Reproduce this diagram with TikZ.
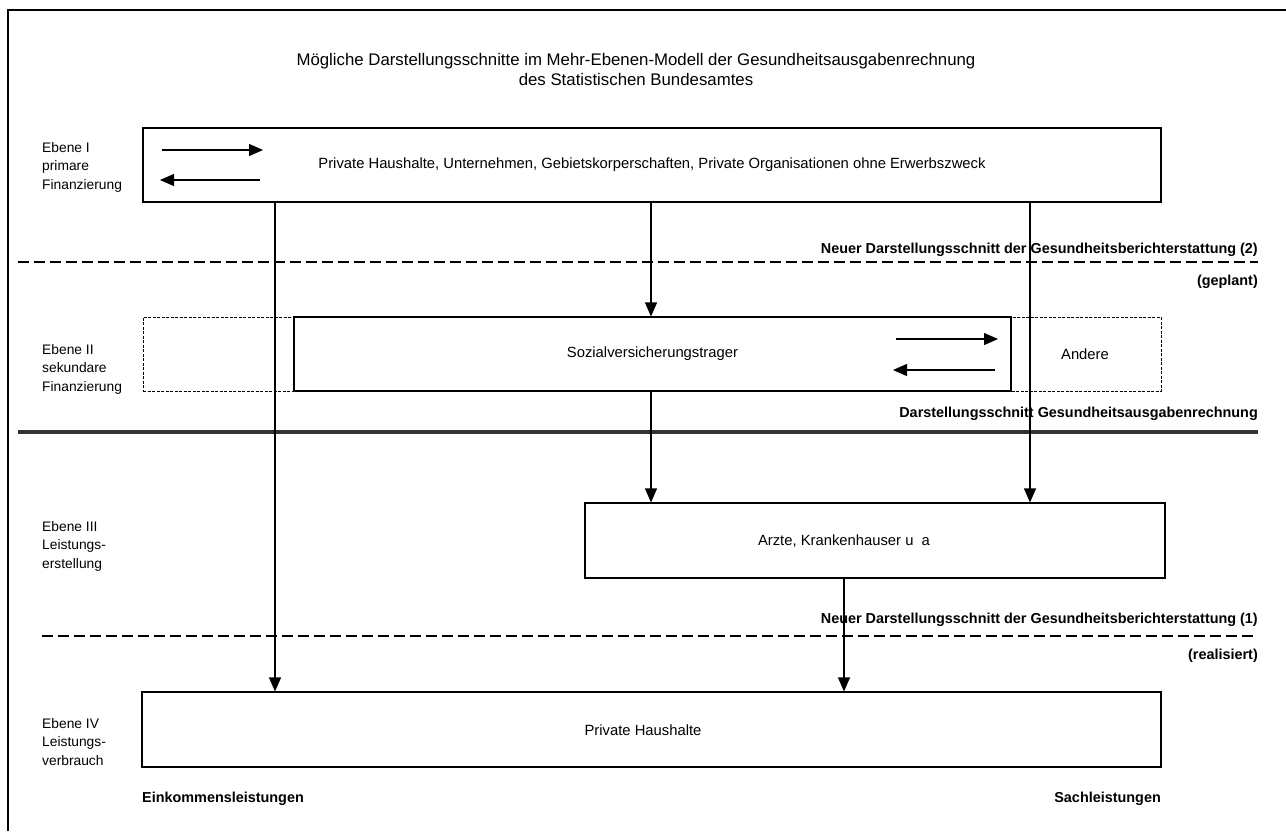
\documentclass[tikz,border=0pt]{standalone}
\usepackage{fontspec}
\setmainfont{Liberation Sans}
\usetikzlibrary{arrows.meta}
\begin{document}
\begin{tikzpicture}[x=1pt,y=-1pt,
  every node/.style={font=\fontsize{14.8}{19}\selectfont, inner sep=0pt},
  box/.style={draw, line width=1.1pt},
  dbox/.style={draw, line width=0.9pt, dash pattern=on 3pt off 1.5pt},
  lvl/.style={align=left, anchor=base west, font=\fontsize{13.8}{18.5}\selectfont},
  cutlabel/.style={font=\bfseries\fontsize{14.4}{18}\selectfont},
  flow/.style={line width=1.1pt, -{Triangle[length=14pt,width=12pt]}},
  swap/.style={line width=1.1pt, -{Triangle[length=14pt,width=12pt]}},
  cutline/.style={line width=1.1pt, dash pattern=on 11pt off 5pt},
  mainline/.style={line width=3.5pt, black!80}
]
\useasboundingbox (0,0) rectangle (1286,831);

% frame
\draw[line width=1.1pt] (8,831) -- (8,10) -- (1286,10);

% title (baseline of the last line)
\node[align=center, anchor=base, font=\fontsize{16.8}{20}\selectfont] (title) at (636,85)
  {Mögliche Darstellungsschnitte im Mehr-Ebenen-Modell der Gesundheitsausgabenrechnung\\
   des Statistischen Bundesamtes};

% level labels (baseline of the last line)
\node[lvl] (e1) at (42,189) {Ebene I\\primare\\Finanzierung};
\node[lvl] (e2) at (42,391) {Ebene II\\sekundare\\Finanzierung};
\node[lvl] (e3) at (42,568) {Ebene III\\Leistungs-\\erstellung};
\node[lvl] (e4) at (42,765) {Ebene IV\\Leistungs-\\verbrauch};

% level I
\node[box, minimum width=1018pt, minimum height=74pt] (b1) at (652,165)
  {\raisebox{-1.5pt}{Private Haushalte, Unternehmen, Gebietskorperschaften, Private Organisationen ohne Erwerbszweck}};
\draw[swap] (162,150) -- (263,150);
\draw[swap] (260,180) -- (160,180);

% level II
\node[dbox, minimum width=1018pt, minimum height=74pt] (b2) at (652,354) {};
\node[box, fill=white, minimum width=717pt, minimum height=74pt] (sv) at (652.5,354)
  {Sozialversicherungstrager};
\node (andere) at (1085,354) {Andere};
\draw[swap] (896,339) -- (998,339);
\draw[swap] (995,370) -- (893,370);

% level III
\node[box, minimum width=580pt, minimum height=75pt] (b3) at (875,540.5) {};
\node (t3) at (844,541) {Arzte, Krankenhauser u\ \ a};

% level IV
\node[box, minimum width=1019pt, minimum height=75pt] (b4) at (651.5,729.5) {};
\node (t4) at (643,730) {Private Haushalte};

% cut lines
\coordinate (c2l) at (18,262);   \coordinate (c2r) at (1258,262);
\coordinate (c0l) at (18,432);   \coordinate (c0r) at (1258,432);
\coordinate (c1l) at (42,636);   \coordinate (c1r) at (1258,636);
\draw[cutline] (c2l) -- (c2r);
\draw[mainline] (c0l) -- (c0r);
\draw[cutline] (c1l) -- (c1r);

\node[cutlabel, anchor=base east] (l2) at (1258,253)
  {Neuer Darstellungsschnitt der Gesundheitsberichterstattung (2)};
\node[cutlabel, anchor=base east] (l2b) at (1258,285) {(geplant)};
\node[cutlabel, anchor=base east] (l0) at (1258,417)
  {Darstellungsschnitt Gesundheitsausgabenrechnung};
\node[cutlabel, anchor=base east] (l1) at (1258,623)
  {Neuer Darstellungsschnitt der Gesundheitsberichterstattung (1)};
\node[cutlabel, anchor=base east] (l1b) at (1258,659) {(realisiert)};

\node[cutlabel, anchor=base west] (ein) at (142,802) {Einkommensleistungen};
\node[cutlabel, anchor=base east] (sach) at (1161,802) {Sachleistungen};

% flows between levels
\coordinate (colA) at (275,0);
\coordinate (colB) at (651,0);
\coordinate (colC) at (1030,0);
\coordinate (colD) at (844,0);
\draw[flow] (b1.south -| colA) -- (b4.north -| colA);
\draw[flow] (b1.south -| colB) -- (sv.north -| colB);
\draw[flow] (sv.south -| colB) -- (b3.north -| colB);
\draw[flow] (b1.south -| colC) -- (b3.north -| colC);
\draw[flow] (b3.south -| colD) -- (b4.north -| colD);
\end{tikzpicture}
\end{document}
